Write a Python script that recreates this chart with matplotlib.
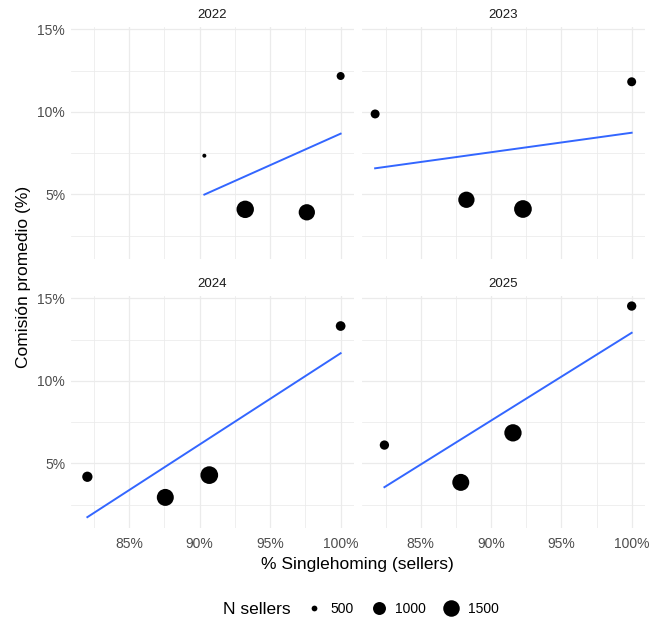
import numpy as np
import matplotlib
matplotlib.use("Agg")
import matplotlib.pyplot as plt
from matplotlib.ticker import FixedLocator, FuncFormatter
from matplotlib.lines import Line2D

plt.rcParams['font.family'] = ['Liberation Sans', 'DejaVu Sans']

# ---- data ----
years = ["2022", "2023", "2024", "2025"]
single_2022 = [90.33, 93.23, 97.60, 100.0]
comision_2022 = [7.34, 4.09, 3.91, 12.17]
nsellers_2022 = [480, 1650, 1460, 584]

single_2023 = [81.76, 88.25, 92.27, 100.0]
comision_2023 = [9.87, 4.67, 4.11, 11.82]
nsellers_2023 = [640, 1463, 1700, 640]

single_2024 = [82.03, 87.56, 90.68, 100.0]
comision_2024 = [4.19, 2.94, 4.29, 13.32]
nsellers_2024 = [736, 1578, 1700, 691]

single_2025 = [82.42, 87.85, 91.56, 100.0]
comision_2025 = [6.11, 3.85, 6.85, 14.53]
nsellers_2025 = [663, 1578, 1630, 663]

legend_breaks = [500, 1000, 1500]
x_ticks = [85, 90, 95, 100]
y_ticks = [5, 10, 15]

data = {
    "2022": (single_2022, comision_2022, nsellers_2022),
    "2023": (single_2023, comision_2023, nsellers_2023),
    "2024": (single_2024, comision_2024, nsellers_2024),
    "2025": (single_2025, comision_2025, nsellers_2025),
}

# ---- size scale (area-like) ----
all_n = np.concatenate([nsellers_2022, nsellers_2023, nsellers_2024, nsellers_2025])
nmin, nmax = all_n.min(), all_n.max()
def diam_px(n):
    t = np.clip((np.asarray(n, float) - nmin) / (nmax - nmin), 0, 1)
    return 4.0 + 13.7 * np.sqrt(t)
DPI = 100
def s_pts2(n):
    return (diam_px(n) * 72.0 / DPI) ** 2

# ---- fits ----
fits = {}
for y in years:
    xs, ys, _ = data[y]
    b, a = np.polyfit(xs, ys, 1)
    fits[y] = (a, b, min(xs), max(xs))

all_x = np.concatenate([data[y][0] for y in years])
all_y = np.concatenate([data[y][1] for y in years] +
                       [[fits[y][0] + fits[y][1] * fits[y][2], fits[y][0] + fits[y][1] * fits[y][3]] for y in years])
xr = all_x.max() - all_x.min()
yr = all_y.max() - all_y.min()
xlim = (all_x.min() - 0.05 * xr, all_x.max() + 0.05 * xr)
ylim = (all_y.min() - 0.05 * yr, all_y.max() + 0.05 * yr)

W, H = 651, 624
fig = plt.figure(figsize=(W / DPI, H / DPI), dpi=DPI)

# panel boxes in pixels: (left, top, right, bottom)
boxes = {
    "2022": (70.7, 26.5, 353.5, 258.6),
    "2023": (362.3, 26.5, 644.5, 258.6),
    "2024": (70.7, 295.5, 353.5, 527.7),
    "2025": (362.3, 295.5, 644.5, 527.7),
}

grid_c = "#EBEBEB"
for i, y in enumerate(years):
    l, t, r, b = boxes[y]
    ax = fig.add_axes([l / W, 1 - b / H, (r - l) / W, (b - t) / H])
    ax.set_xlim(*xlim)
    ax.set_ylim(*ylim)
    for sp in ax.spines.values():
        sp.set_visible(False)
    ax.xaxis.set_major_locator(FixedLocator(x_ticks))
    ax.yaxis.set_major_locator(FixedLocator(y_ticks))
    ax.xaxis.set_minor_locator(FixedLocator([82.5, 87.5, 92.5, 97.5]))
    ax.yaxis.set_minor_locator(FixedLocator([2.5, 7.5, 12.5]))
    ax.grid(which="major", color=grid_c, linewidth=0.9)
    ax.grid(which="minor", color=grid_c, linewidth=0.55)
    ax.set_axisbelow(True)
    ax.tick_params(which="both", length=0, labelsize=10, colors="#4D4D4D")
    ax.tick_params(axis="x", pad=7)
    ax.tick_params(axis="y", pad=4)
    ax.xaxis.set_major_formatter(FuncFormatter(lambda v, p: f"{v:.0f}%"))
    ax.yaxis.set_major_formatter(FuncFormatter(lambda v, p: f"{v:.0f}%"))
    if i < 2:
        ax.tick_params(labelbottom=False)
    if i % 2 == 1:
        ax.tick_params(labelleft=False)

    xs, ys, ns = data[y]
    a, bb, x0, x1 = fits[y]
    xl = np.linspace(x0, x1, 80)
    ax.plot(xl, a + bb * xl, color="#3366FF", linewidth=1.4, zorder=2)
    ax.scatter(xs, ys, s=s_pts2(ns), color="black", linewidths=0, zorder=3)

    ax.text(0.5, 1.0 + 11.5 / (b - t), y, transform=ax.transAxes, ha="center",
            va="center", fontsize=9.5, color="#1A1A1A")

# axis titles
fig.text(24 / W, 1 - 277 / H, "Comisión promedio (%)", rotation=90, ha="center",
         va="center", fontsize=12.5, color="black")
fig.text(357 / W, 1 - 565 / H, "% Singlehoming (sellers)", ha="center",
         va="center", fontsize=12.5, color="black")

# legend
fig.text(257 / W, 1 - 609 / H, "N sellers", ha="center", va="center", fontsize=12.5)
handles = [Line2D([], [], linestyle="none", marker="o", color="black",
                  markeredgewidth=0, markersize=diam_px(n) * 72 / DPI)
           for n in legend_breaks]
fig.legend(handles, [str(n) for n in legend_breaks], loc="center",
           bbox_to_anchor=(402 / W, 1 - 609 / H), ncol=3, frameon=False,
           fontsize=10, handletextpad=0.6, columnspacing=1.2, handlelength=1.2)

fig.savefig("out.png", dpi=DPI)
